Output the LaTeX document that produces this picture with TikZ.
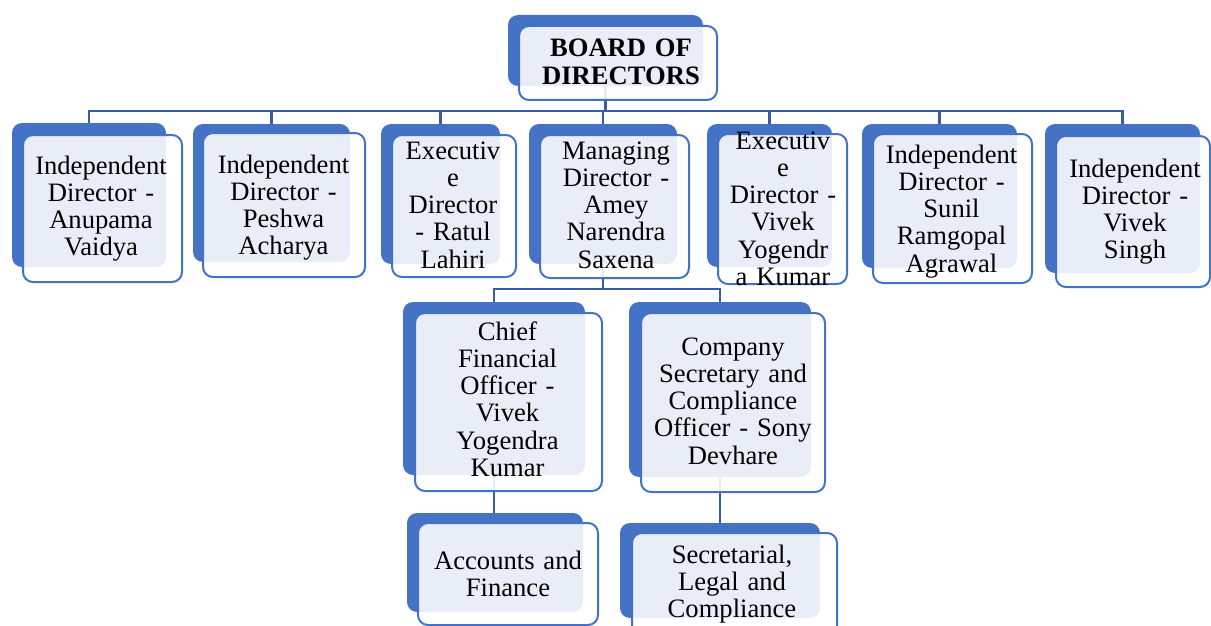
\documentclass[tikz,border=0pt]{standalone}
\usepackage{fontspec}
\setmainfont{Liberation Serif}
\pgfdeclarelayer{bg}
\pgfsetlayers{bg,main}
\definecolor{accent}{RGB}{68,114,196}
\definecolor{connblue}{RGB}{56,92,168}
\tikzset{
  backbox/.style={draw=none, fill=accent, rounded corners=10pt, inner sep=0pt},
  frontbox/.style={draw=accent, line width=2pt, fill=white, fill opacity=0.88, draw opacity=1, rounded corners=10pt, inner sep=0pt},
  txt/.style={anchor=base, inner sep=0pt, text width=240pt, align=center, font={\fontsize{26.6}{27.3}\selectfont}},
  conn/.style={draw=connblue, line width=2.5pt},
}
% name, back x1 y1 x2 y2, front x1 y1 x2 y2
\newcommand\twobox[9]{%
  \node[backbox, minimum width={(#4-#2)*1pt}, minimum height={(#5-#3)*1pt}] (#1B) at ({(#2+#4)/2},{(#3+#5)/2}) {};
  \node[frontbox, minimum width={(#8-#6)*1pt}, minimum height={(#9-#7)*1pt}] (#1F) at ({(#6+#8)/2},{(#7+#9)/2}) {};
}
\begin{document}
\begin{tikzpicture}[x=1pt,y=-1pt]
\useasboundingbox (0,0) rectangle (1211,626);
\clip (0,0) rectangle (1211,626);
\coordinate (bus) at (0,111);
\coordinate (sub) at (0,289);
\twobox{board}{508}{15}{703}{86}{519}{26}{717}{100}
\twobox{a}{12}{123}{166}{267}{23}{135}{182}{282}
\twobox{b}{193}{124}{350}{262}{203}{133}{365}{277}
\twobox{c}{381}{124}{500}{264}{392}{135}{516}{277}
\twobox{d}{529}{124}{677}{264}{540}{135}{689}{278}
\twobox{e}{707}{124}{832}{267}{718}{134}{847}{284}
\twobox{f}{862}{124}{1017}{268}{873}{134}{1032}{283}
\twobox{g}{1045}{124}{1200}{273}{1056}{136}{1210}{287}
\twobox{cfo}{403}{302}{585}{475}{415}{313}{602}{491}
\twobox{cs}{629}{302}{811}{477}{641}{313}{825}{492}
\twobox{acc}{407}{513}{583}{612}{418}{523}{598}{625}
\twobox{sec}{620}{523}{820}{618}{632}{533}{837}{640}

\node[txt, font={\fontsize{26.6}{27.3}\selectfont\bfseries}] (tboard) at (621,57) {BOARD OF\\DIRECTORS};
\node[txt] (ta) at (101,174) {Independent\\Director -\\Anupama\\Vaidya};
\node[txt] (tb) at (283.5,173) {Independent\\Director -\\Peshwa\\Acharya};
\node[txt] (tc) at (453,159) {Executiv\\e\\Director\\- Ratul\\Lahiri};
\node[txt] (td) at (616,159) {Managing\\Director -\\Amey\\Narendra\\Saxena};
\node[txt] (te) at (783,149) {Executiv\\e\\Director -\\Vivek\\Yogendr\\a Kumar};
\node[txt] (tf) at (951.5,163) {Independent\\Director -\\Sunil\\Ramgopal\\Agrawal};
\node[txt] (tg) at (1135,177) {Independent\\Director -\\Vivek\\Singh};
\node[txt] (tcfo) at (507.5,340) {Chief\\Financial\\Officer -\\Vivek\\Yogendra\\Kumar};
\node[txt] (tcs) at (733,355) {Company\\Secretary and\\Compliance\\Officer - Sony\\Devhare};
\node[txt] (tacc) at (508,569) {Accounts and\\Finance};
\node[txt] (tsec) at (732,563) {Secretarial,\\Legal and\\Compliance};

\begin{pgfonlayer}{bg}
  \draw[conn] (boardB.south) -- (boardB.south |- bus);
  \draw[conn] (aB.north) |- (gB.north |- bus) -- (gB.north);
  \foreach \n in {b,c,d,e,f} \draw[conn] (\n B.north) -- (\n B.north |- bus);
  \draw[conn] (dB.south) -- (dB.south |- sub);
  \draw[conn] (cfoB.north) |- (csB.north |- sub) -- (csB.north);
  \draw[conn] (cfoB.south) -- (cfoB.south |- accB.north);
  \draw[conn] (csB.south) -- (csB.south |- secB.north);
\end{pgfonlayer}
\end{tikzpicture}
\end{document}
